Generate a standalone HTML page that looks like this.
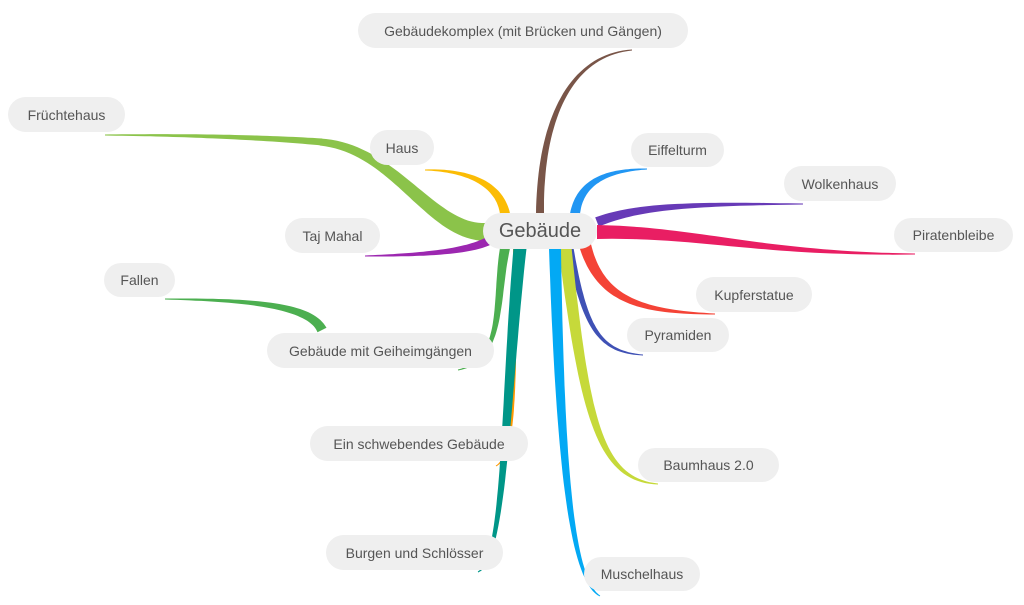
<!DOCTYPE html>
<html><head><meta charset="utf-8"><style>
body{margin:0;background:#fff;width:1024px;height:605px;overflow:hidden;position:relative;font-family:"Liberation Sans",sans-serif}
svg{position:absolute;left:0;top:0}
.n{position:absolute;background:#efefef;border-radius:18px;color:#555;font-size:14px;display:flex;align-items:center;justify-content:center;white-space:nowrap}
</style></head><body>
<svg id="s" width="1024" height="605"></svg>
<div class="n" style="left:358px;top:13px;width:330px;height:35px">Gebäudekomplex (mit Brücken und Gängen)</div>
<div class="n" style="left:8px;top:97px;width:117px;height:35px">Früchtehaus</div>
<div class="n" style="left:370px;top:130px;width:64px;height:35px">Haus</div>
<div class="n" style="left:631px;top:133px;width:93px;height:34px">Eiffelturm</div>
<div class="n" style="left:784px;top:166px;width:112px;height:35px">Wolkenhaus</div>
<div class="n" style="left:285px;top:218px;width:95px;height:35px">Taj Mahal</div>
<div class="n" style="left:894px;top:218px;width:119px;height:34px">Piratenbleibe</div>
<div class="n" style="left:104px;top:263px;width:71px;height:34px">Fallen</div>
<div class="n" style="left:696px;top:277px;width:116px;height:35px">Kupferstatue</div>
<div class="n" style="left:627px;top:318px;width:102px;height:34px">Pyramiden</div>
<div class="n" style="left:267px;top:333px;width:227px;height:35px">Gebäude mit Geiheimgängen</div>
<div class="n" style="left:310px;top:426px;width:218px;height:35px">Ein schwebendes Gebäude</div>
<div class="n" style="left:638px;top:448px;width:141px;height:34px">Baumhaus 2.0</div>
<div class="n" style="left:326px;top:535px;width:177px;height:35px">Burgen und Schlösser</div>
<div class="n" style="left:584px;top:557px;width:116px;height:34px">Muschelhaus</div>
<div class="n" style="left:483px;top:213px;width:114px;height:36px;font-size:20px">Gebäude</div>
<script>
var B=[
["#795548",8,1,[540,214],[540,120],[570,55],[632,50]],
["#8bc34a",18,7,[485,232],[430,232],[395,148],[320,142]],
["#8bc34a",7,1,[322,142],[260,137],[180,135],[105,135]],
["#fbbc05",10,1,[505,214],[500,185],[470,170],[425,170]],
["#9c27b0",9,1,[490,240],[470,252],[420,255],[365,256]],
["#2196f3",10,1,[575,214],[580,180],[610,170],[647,169]],
["#673ab7",10,1,[597,222],[640,205],[700,204],[803,204]],
["#e91e63",14,1,[597,232],[700,232],[760,254],[915,254]],
["#f44336",12,1,[585,245],[600,300],[640,312],[715,314]],
["#3f51b5",7,1,[570,248],[585,330],[600,352],[643,355]],
["#c6d93a",13,1,[565,248],[585,420],[600,480],[658,484]],
["#03a9f4",12,1,[555,248],[560,450],[570,580],[600,596]],
["#4caf50",10,1,[505,248],[495,300],[505,360],[458,370]],
["#ff9800",4,1,[515,248],[515,400],[515,455],[496,466]],
["#009688",13,1,[520,248],[505,400],[505,560],[478,572]],
["#4caf50",10,1,[322,330],[310,305],[250,300],[165,299]]
];
var s=document.getElementById('s'),h='';
B.forEach(function(b){var c=b[0],w=b[1],w1=b[2],P=b.slice(3),L=[],R=[],N=40;
for(var i=0;i<=N;i++){var t=i/N,u=1-t;
var x=u*u*u*P[0][0]+3*u*u*t*P[1][0]+3*u*t*t*P[2][0]+t*t*t*P[3][0];
var y=u*u*u*P[0][1]+3*u*u*t*P[1][1]+3*u*t*t*P[2][1]+t*t*t*P[3][1];
var dx=3*u*u*(P[1][0]-P[0][0])+6*u*t*(P[2][0]-P[1][0])+3*t*t*(P[3][0]-P[2][0]);
var dy=3*u*u*(P[1][1]-P[0][1])+6*u*t*(P[2][1]-P[1][1])+3*t*t*(P[3][1]-P[2][1]);
var l=Math.hypot(dx,dy)||1,hw=(w*(1-t)+w1*t)/2;
L.push((x-dy/l*hw).toFixed(1)+','+(y+dx/l*hw).toFixed(1));
R.unshift((x+dy/l*hw).toFixed(1)+','+(y-dx/l*hw).toFixed(1));}
h+='<polygon fill="'+c+'" points="'+L.concat(R).join(' ')+'"/>';});
s.innerHTML=h;
</script>
</body></html>
